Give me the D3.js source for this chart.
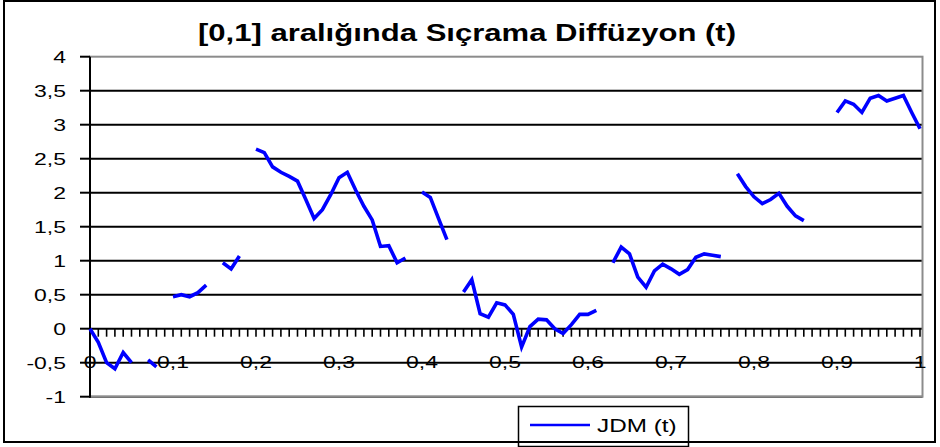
<!DOCTYPE html>
<html>
<head>
<meta charset="utf-8">
<script src="https://cdn.jsdelivr.net/npm/d3@7"></script>
<style>
  body { margin: 0; background: #fff; }
  text { font-family: "Liberation Sans", Arial, sans-serif; fill: #000; }
</style>
</head>
<body>
<svg id="chart" width="940" height="447"></svg>
<script>
// *******************
// Data
// *******************

const TITLE = "[0,1] aralığında Sıçrama Diffüzyon (t)";
const SERIES_NAME = "JDM (t)";

// JDM(t) at t = 0, 0.01, ..., 1 (null = gap in the line)
const jdmValues = [
  0, -0.2, -0.5, -0.59, -0.35, -0.5, null, -0.46, -0.56, null,
  0.47, 0.5, 0.47, 0.53, 0.64, null, 0.97, 0.88, 1.07, null,
  2.64, 2.59, 2.38, 2.3, 2.24, 2.17, 1.9, 1.62, 1.75, 1.97,
  2.22, 2.3, 2.04, 1.8, 1.6, 1.21, 1.22, 0.97, 1.04, null,
  2.01, 1.93, 1.62, 1.31, null, 0.54, 0.72, 0.22, 0.17, 0.38,
  0.35, 0.21, -0.27, 0.03, 0.14, 0.13, 0.0, -0.07, 0.06, 0.21,
  0.21, 0.27, null, 0.97, 1.2, 1.1, 0.76, 0.61, 0.85, 0.95,
  0.88, 0.8, 0.87, 1.05, 1.1, 1.08, 1.06, null, 2.28, 2.09,
  1.94, 1.84, 1.9, 1.99, 1.8, 1.66, 1.59, null, null, null,
  3.18, 3.35, 3.3, 3.18, 3.39, 3.43, 3.35, 3.39, 3.43, 3.18,
  2.94
];

const yTicks = [-1, -0.5, 0, 0.5, 1, 1.5, 2, 2.5, 3, 3.5, 4];
const yTickLabels = ["-1", "-0,5", "0", "0,5", "1", "1,5", "2", "2,5", "3", "3,5", "4"];
const xLabelIdx = [0, 10, 20, 30, 40, 50, 60, 70, 80, 90, 100];
const xTickLabels = ["0", "0,1", "0,2", "0,3", "0,4", "0,5", "0,6", "0,7", "0,8", "0,9", "1"];

// *******************
// Layout
// *******************

const PLOT = { LEFT: 90, RIGHT: 921, TOP: 56.7, BOTTOM: 396.7 };
const STRETCH = 1.35; // the original picture is widened horizontally
const LINE_COLOR = "#0000ff";

const svg = d3.select("#chart");

const x = d3.scaleLinear().domain([0, jdmValues.length - 1]).range([PLOT.LEFT, PLOT.RIGHT - 1]);
const y = d3.scaleLinear().domain([-1, 4]).range([PLOT.BOTTOM, PLOT.TOP]);

// places a text at (tx, ty) and widens it like the source image
function stretchedText(g, tx, ty, str, size, anchor, weight = "normal") {
  return g
    .append("text")
    .attr("transform", `translate(${tx},${ty}) scale(${STRETCH},1)`)
    .attr("text-anchor", anchor)
    .attr("font-size", size)
    .attr("font-weight", weight)
    .text(str);
}

svg.append("rect").attr("width", 940).attr("height", 447).attr("fill", "#fff");

// plot area + gridlines
svg
  .append("rect")
  .attr("x", PLOT.LEFT)
  .attr("y", PLOT.TOP)
  .attr("width", PLOT.RIGHT + 1.5 - PLOT.LEFT)
  .attr("height", PLOT.BOTTOM - PLOT.TOP)
  .attr("fill", "#fff");

svg
  .append("g")
  .selectAll("line")
  .data(yTicks.slice(0, -1))
  .join("line")
  .attr("x1", PLOT.LEFT)
  .attr("x2", PLOT.RIGHT + 1.5)
  .attr("y1", (d) => y(d))
  .attr("y2", (d) => y(d))
  .attr("stroke", "#000")
  .attr("stroke-width", 2);

// plot area border (grey)
svg
  .append("rect")
  .attr("x", PLOT.LEFT)
  .attr("y", PLOT.TOP)
  .attr("width", PLOT.RIGHT + 1.5 - PLOT.LEFT)
  .attr("height", PLOT.BOTTOM - PLOT.TOP)
  .attr("fill", "none")
  .attr("stroke", "#8c8c8c")
  .attr("stroke-width", 2);

// y axis
const yAxisG = svg.append("g").attr("transform", `translate(${PLOT.LEFT},0)`);
yAxisG
  .append("line")
  .attr("y1", PLOT.TOP)
  .attr("y2", PLOT.BOTTOM + 1)
  .attr("stroke", "#000")
  .attr("stroke-width", 2);
yAxisG
  .selectAll(".ytick")
  .data(yTicks)
  .join("line")
  .attr("class", "ytick")
  .attr("x1", -10)
  .attr("x2", 0)
  .attr("y1", (d) => y(d))
  .attr("y2", (d) => y(d))
  .attr("stroke", "#000")
  .attr("stroke-width", 2);
yTicks.forEach((d, i) => {
  stretchedText(svg, 66, y(d) + 6, yTickLabels[i], 17, "end");
});

// x axis, crossing at 0, one tick per category
const x0 = y(0);
svg
  .append("g")
  .selectAll("line")
  .data(jdmValues.map((_, i) => i))
  .join("line")
  .attr("x1", (i) => x(i))
  .attr("x2", (i) => x(i))
  .attr("y1", x0)
  .attr("y2", x0 + 8)
  .attr("stroke", "#000")
  .attr("stroke-width", 1.6);
xLabelIdx.forEach((idx, i) => {
  stretchedText(svg, x(idx), x0 + 39, xTickLabels[i], 17, "middle");
});

// the JDM line, broken where values are missing
const line = d3
  .line()
  .defined((d) => d !== null)
  .x((d, i) => x(i))
  .y((d) => y(d));

svg
  .append("path")
  .datum(jdmValues)
  .attr("d", line)
  .attr("fill", "none")
  .attr("stroke", LINE_COLOR)
  .attr("stroke-width", 3.6)
  .attr("stroke-linejoin", "miter");

// title
stretchedText(svg, 467, 41, TITLE, 23, "middle", "bold");

// legend
const legend = svg.append("g");
legend
  .append("rect")
  .attr("x", 518.5)
  .attr("y", 406.5)
  .attr("width", 170)
  .attr("height", 40)
  .attr("fill", "#fff")
  .attr("stroke", "#000")
  .attr("stroke-width", 1.5);
legend
  .append("line")
  .attr("x1", 530)
  .attr("x2", 590)
  .attr("y1", 425)
  .attr("y2", 425)
  .attr("stroke", LINE_COLOR)
  .attr("stroke-width", 2.5);
stretchedText(legend, 597, 432, SERIES_NAME, 18, "start");

// chart border
svg
  .append("rect")
  .attr("x", 4)
  .attr("y", 1)
  .attr("width", 931)
  .attr("height", 441)
  .attr("fill", "none")
  .attr("stroke", "#000")
  .attr("stroke-width", 2);
</script>
</body>
</html>
